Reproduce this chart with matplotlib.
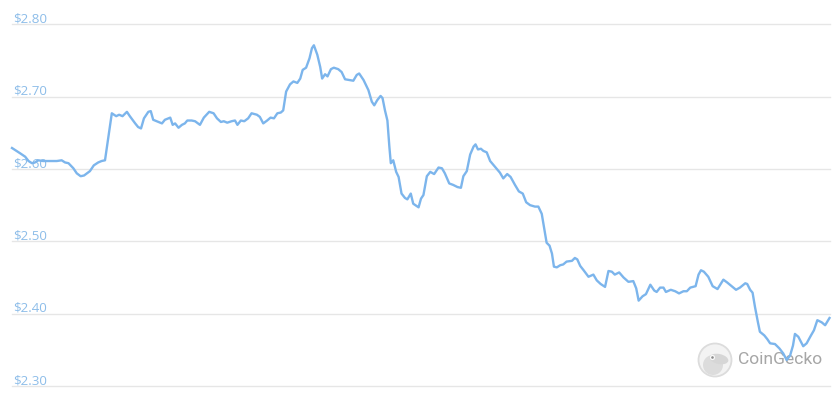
"""
7-day price chart in the CoinGecko style.
"""
import matplotlib
matplotlib.use("Agg")
import matplotlib.pyplot as plt
from matplotlib.patches import Circle, Ellipse

# hours since start of the 7 day window
hours = [
    0.0, 1.6, 2.7, 3.4, 4.1, 4.7, 5.4, 6.4, 7.8, 9.2, 10.2, 10.9, 11.6, 12.6, 13.3,
    14.1, 14.8, 16.0, 16.8, 17.7, 18.4, 19.1, 19.8, 20.5, 21.4, 22.0, 22.7, 23.6,
    24.2, 25.3, 25.9, 26.5, 27.1, 28.0, 28.5, 29.0, 29.7, 30.8, 31.4, 32.5, 33.0,
    33.5, 34.2, 34.9, 35.5, 36.0, 36.9, 37.6, 38.6, 39.4, 40.5, 41.4, 42.1, 42.9,
    43.5, 44.2, 45.1, 45.8, 46.3, 47.0, 47.7, 48.5, 49.2, 50.3, 50.9, 51.6, 52.4,
    53.1, 53.8, 54.5, 55.2, 55.7, 56.3, 57.1, 57.8, 58.6, 59.2, 59.7, 60.4, 61.1,
    61.6, 62.0, 62.7, 63.3, 63.7, 64.3, 64.8, 65.5, 66.1, 67.0, 67.7, 68.4, 69.3,
    70.1, 70.8, 71.3, 72.2, 73.2, 73.9, 74.4, 75.0, 75.7, 76.1, 76.6, 77.1, 77.5,
    77.8, 78.3, 78.9, 79.4, 80.0, 80.7, 81.2, 81.9, 82.4, 83.5, 84.0, 84.5, 85.2,
    85.9, 86.7, 87.6, 88.3, 88.9, 89.8, 90.6, 91.5, 92.2, 92.7, 93.4, 94.1, 94.8,
    95.2, 95.7, 96.3, 96.8, 97.5, 98.2, 99.2, 100.2, 100.9, 101.7, 102.4, 103.3,
    104.1, 104.9, 105.6, 106.4, 107.4, 108.1, 108.8, 109.3, 109.8, 110.4, 110.9,
    111.3, 111.9, 112.6, 113.2, 113.9, 115.0, 115.6, 116.1, 116.7, 117.4, 118.4,
    119.4, 120.1, 120.9, 121.8, 122.5, 123.2, 123.8, 124.7, 125.6, 126.6, 127.6,
    128.2, 128.7, 129.5, 130.2, 131.1, 131.9, 132.4, 133.1, 133.8, 134.3, 135.3,
    136.2, 137.0, 137.9, 138.6, 139.3, 140.4, 141.0, 141.5, 142.1, 143.0, 143.9,
    144.9, 146.1, 146.9, 147.8, 148.7, 149.5, 150.6, 151.0, 151.6, 152.1, 152.6,
    153.2, 153.6, 154.5, 155.1, 155.7, 156.7, 157.6, 158.4, 159.1, 159.8, 160.4,
    160.8, 161.5, 162.5, 163.2, 164.1, 164.7, 165.4, 166.3, 167.0, 167.9,
]

# price in USD
prices = [
    2.629, 2.622, 2.617, 2.611, 2.608, 2.609, 2.612, 2.611, 2.611, 2.611, 2.612,
    2.609, 2.608, 2.601, 2.594, 2.590, 2.591, 2.597, 2.605, 2.609, 2.611, 2.612,
    2.644, 2.677, 2.673, 2.675, 2.673, 2.679, 2.673, 2.663, 2.658, 2.656, 2.670,
    2.679, 2.680, 2.668, 2.666, 2.663, 2.668, 2.671, 2.661, 2.663, 2.657, 2.661,
    2.663, 2.667, 2.667, 2.666, 2.661, 2.671, 2.679, 2.677, 2.670, 2.665, 2.666,
    2.664, 2.666, 2.667, 2.661, 2.667, 2.666, 2.670, 2.677, 2.675, 2.672, 2.663,
    2.667, 2.671, 2.670, 2.677, 2.678, 2.681, 2.707, 2.717, 2.721, 2.719, 2.725,
    2.737, 2.740, 2.753, 2.767, 2.771, 2.758, 2.741, 2.725, 2.731, 2.728, 2.738,
    2.740, 2.738, 2.734, 2.724, 2.723, 2.722, 2.730, 2.732, 2.723, 2.709, 2.693,
    2.688, 2.695, 2.701, 2.698, 2.681, 2.667, 2.631, 2.608, 2.612, 2.596, 2.589,
    2.566, 2.560, 2.558, 2.566, 2.552, 2.547, 2.559, 2.564, 2.590, 2.596, 2.593,
    2.602, 2.601, 2.594, 2.580, 2.578, 2.575, 2.574, 2.590, 2.597, 2.620, 2.631,
    2.634, 2.627, 2.628, 2.625, 2.623, 2.611, 2.603, 2.595, 2.587, 2.593, 2.589,
    2.578, 2.569, 2.566, 2.554, 2.550, 2.548, 2.548, 2.538, 2.518, 2.498, 2.494,
    2.483, 2.465, 2.464, 2.467, 2.468, 2.472, 2.473, 2.477, 2.475, 2.466, 2.460,
    2.451, 2.454, 2.446, 2.441, 2.437, 2.459, 2.458, 2.454, 2.457, 2.450, 2.444,
    2.445, 2.435, 2.418, 2.424, 2.427, 2.440, 2.432, 2.430, 2.436, 2.436, 2.430,
    2.433, 2.431, 2.428, 2.431, 2.431, 2.436, 2.438, 2.454, 2.460, 2.458, 2.451,
    2.438, 2.434, 2.447, 2.443, 2.438, 2.433, 2.436, 2.442, 2.441, 2.433, 2.429,
    2.409, 2.388, 2.375, 2.370, 2.365, 2.359, 2.358, 2.352, 2.345, 2.336, 2.342,
    2.356, 2.372, 2.368, 2.355, 2.359, 2.370, 2.377, 2.391, 2.388, 2.384, 2.394,
]

tick_values = [2.30, 2.40, 2.50, 2.60, 2.70, 2.80]
tick_labels = ["$2.30", "$2.40", "$2.50", "$2.60", "$2.70", "$2.80"]

W, H = 840, 401
fig = plt.figure(figsize=(W / 100, H / 100), dpi=100)
fig.patch.set_facecolor("white")

# CoinGecko watermark sits under the price line
logo = fig.add_axes([697 / W, 1 - 378 / H, 36 / W, 36 / H], zorder=0)
logo.set_xlim(0, 36)
logo.set_ylim(0, 36)
logo.axis("off")
logo.add_patch(Circle((18, 18), 16.5, facecolor="#f3f3f3", edgecolor="none"))
logo.add_patch(Ellipse((16, 13), 20, 20, facecolor="#dcdcdc", edgecolor="none"))
logo.add_patch(Ellipse((22, 19), 19, 10, angle=-12, facecolor="#d6d6d6", edgecolor="none"))
logo.add_patch(Circle((15.5, 20.5), 2.6, facecolor="#fafafa", edgecolor="none"))
logo.add_patch(Circle((15.5, 20.5), 1.3, facecolor="#8a8a8a", edgecolor="none"))
logo.add_patch(Circle((18, 18), 16.5, facecolor="none", edgecolor="#dcdcdc", lw=1.3))

fig.text(738 / W, 1 - 360 / H, "CoinGecko", ha="left", va="center",
         color="#a6a6a6", fontsize=12.6, family=["Roboto", "DejaVu Sans"], zorder=0)

# main plot area (pixel box 12..830 x, 24..386 y)
ax = fig.add_axes([12 / W, 1 - 386 / H, 818 / W, (386 - 24.3) / H], zorder=1)
ax.patch.set_alpha(0)
ax.set_xlim(0, 168)
ax.set_ylim(2.30, 2.80)
for s in ax.spines.values():
    s.set_visible(False)
ax.set_xticks([])
ax.set_yticks([])

for v in tick_values:
    ax.axhline(v, color="#e6e6e6", lw=1.0, zorder=1, clip_on=False)

for v, lab in zip(tick_values, tick_labels):
    ax.annotate(lab, xy=(0, v), xycoords=("axes fraction", "data"),
                xytext=(0.6, 1.4), textcoords="offset points",
                ha="left", va="baseline", color="#8dbde9",
                fontsize=9.6, family=["Open Sans", "DejaVu Sans"], zorder=2)

ax.plot(hours, prices, color="#7cb5ec", lw=1.7, solid_joinstyle="round",
        zorder=5, clip_on=False)

fig.savefig("out.png", dpi=100, facecolor="white")
